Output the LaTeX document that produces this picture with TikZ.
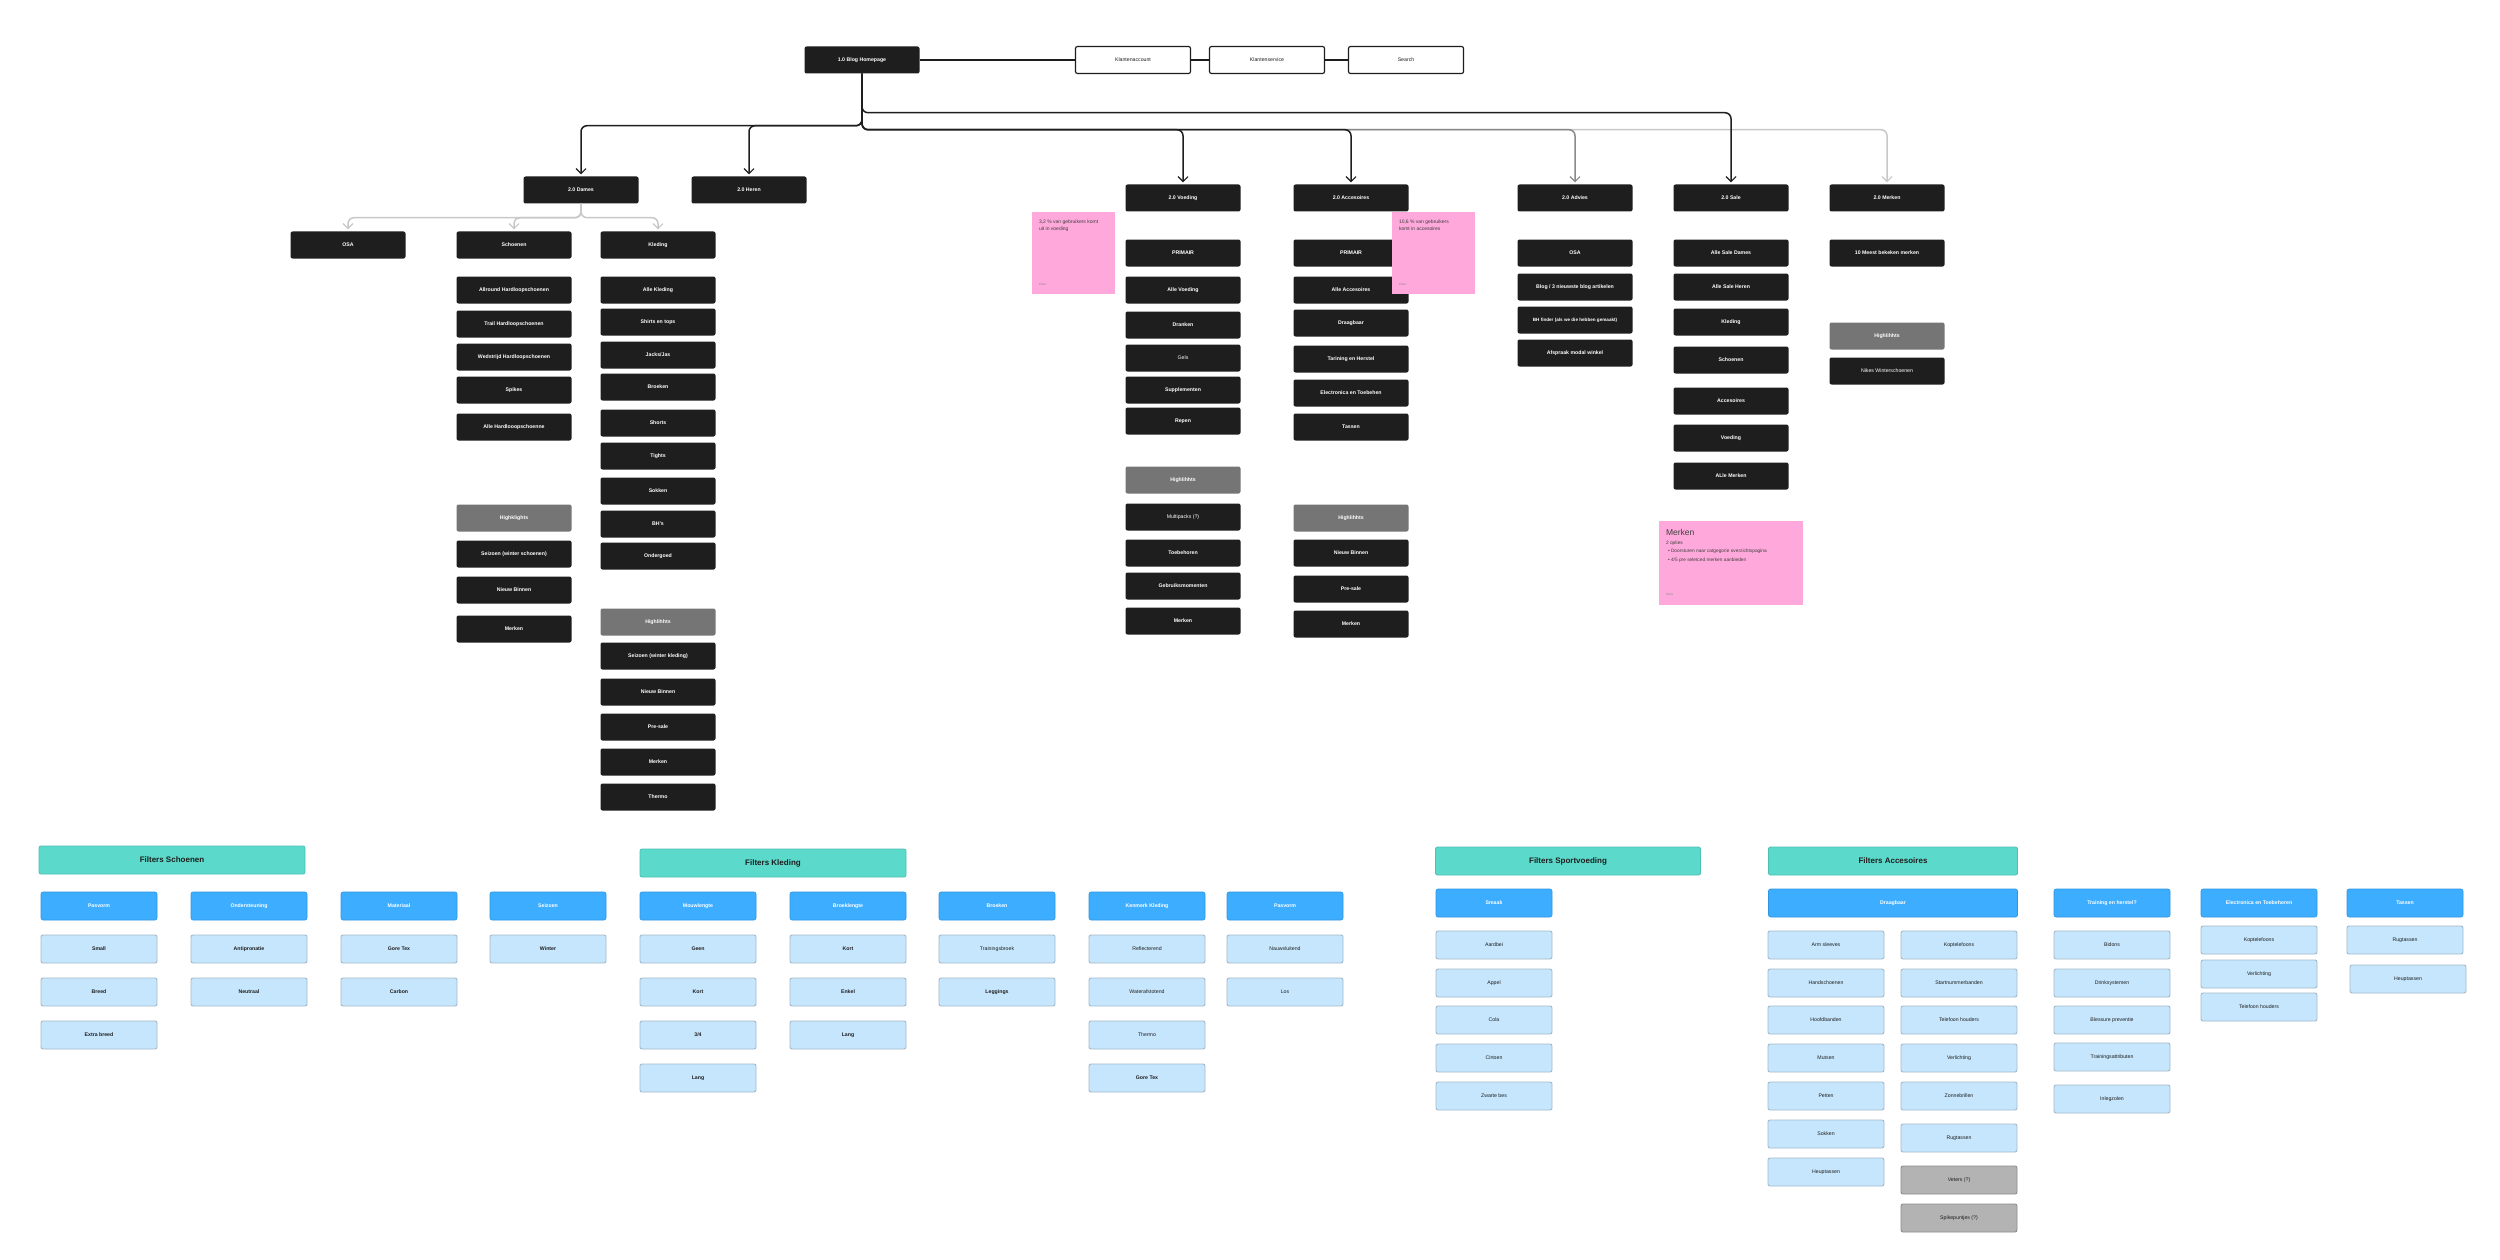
\documentclass[tikz,border=0pt]{standalone}
\usepackage{fontspec}
\setmainfont{Liberation Sans}
\usetikzlibrary{arrows.meta}
\definecolor{boxblack}{HTML}{1E1E1E}
\definecolor{hlgray}{HTML}{757575}
\definecolor{pinknote}{HTML}{FFA8DB}
\definecolor{tealc}{HTML}{5BD9CB}
\definecolor{tealb}{HTML}{4CC0B4}
\definecolor{blueh}{HTML}{3DADFF}
\definecolor{blueb}{HTML}{2E95E0}
\definecolor{lblue}{HTML}{C6E6FD}
\definecolor{lblueb}{HTML}{A3B9C9}
\definecolor{fgray}{HTML}{B3B3B3}
\definecolor{fgrayb}{HTML}{8C8C8C}
\definecolor{linegray}{HTML}{8A8A8A}
\definecolor{lightline}{HTML}{C8C8C8}
\tikzset{
 base/.style={rectangle, rounded corners=2pt, minimum width=115pt, minimum height=27pt, inner sep=1pt, align=center, font=\fontsize{5.2}{6.2}\selectfont\bfseries},
 blk/.style={base, fill=boxblack, text=white},
 blkn/.style={blk, font=\fontsize{5.2}{6.2}\selectfont},
 hl/.style={base, fill=hlgray, text=white},
 wht/.style={base, fill=white, draw=boxblack, line width=1.2pt, text=boxblack, font=\fontsize{5.2}{6.2}\selectfont},
 teal/.style={base, fill=tealc, draw=tealb, line width=0.8pt, text=boxblack, minimum height=28pt, font=\fontsize{8}{9}\selectfont\bfseries},
 fhead/.style={base, fill=blueh, draw=blueb, line width=0.6pt, text=white, minimum width=116pt, minimum height=28pt},
 fitem/.style={base, fill=lblue, draw=lblueb, line width=0.9pt, text=boxblack, minimum width=116pt, minimum height=28pt},
 fitemn/.style={fitem, font=\fontsize{5.2}{6.2}\selectfont},
 fgry/.style={fitemn, fill=fgray, draw=fgrayb},
 note/.style={rectangle, fill=pinknote, minimum width=83pt, minimum height=82pt, inner sep=0},
 notetext/.style={anchor=north west, inner sep=0, align=left, text=boxblack!85, font=\fontsize{5}{7}\selectfont},
 noteauthor/.style={anchor=south west, inner sep=0, text=boxblack!50, font=\fontsize{3}{3.5}\selectfont},
 conn/.style={draw=boxblack, line width=1.5pt, rounded corners=6pt, shorten >=2pt, -{Straight Barb[length=5pt,width=10pt,line width=1.1pt]}},
 connlt/.style={conn, draw=lightline},
 conngr/.style={conn, draw=linegray},
 plainline/.style={draw=boxblack, line width=1.8pt},
}
\begin{document}
\begin{tikzpicture}[x=1pt,y=-1pt]
\useasboundingbox[fill=white] (0,0) rectangle (2500,1260);

% ---------- top row
\node[blk] (home) at (862,60) {1.0 Blog Homepage};
\node[wht] (kacc) at (1133,60) {Klantenaccount};
\node[wht] (kserv) at (1267,60) {Klantenservice};
\node[wht] (search) at (1406,60) {Search};
\draw[plainline] (home) -- (kacc);
\draw[plainline] (kacc) -- (kserv);
\draw[plainline] (kserv) -- (search);

% ---------- level 2
\node[blk] (dames) at (581,190) {2.0 Dames};
\node[blk] (heren) at (749,190) {2.0 Heren};
\node[blk] (voed) at (1183,198) {2.0 Voeding};
\node[blk] (acc) at (1351,198) {2.0 Accesoires};
\node[blk] (adv) at (1575,198) {2.0 Advies};
\node[blk] (sale) at (1731,198) {2.0 Sale};
\node[blk] (merk) at (1887,198) {2.0 Merken};

\draw[connlt] (home.south) -- ++(0,56) -| (merk.north);
\draw[conngr] (home.south) -- ++(0,56) -| (adv.north);
\draw[conn] (home.south) -- ++(0,56) -| (acc.north);
\draw[conn] (home.south) -- ++(0,56) -| (voed.north);
\draw[conn] (home.south) -- ++(0,39) -| (sale.north);
\draw[conn] (home.south) -- ++(0,52) -| (heren.north);
\draw[conn] (home.south) -- ++(0,52) -| (dames.north);

% ---------- level 3 under Dames
\node[blk] (osa) at (348,245) {OSA};
\node[blk] (schoen) at (514,245) {Schoenen};
\node[blk] (kled) at (658,245) {Kleding};
\draw[connlt] (dames.south) -- ++(0,14) -| (osa.north);
\draw[connlt] (dames.south) -- ++(0,14) -| (schoen.north);
\draw[connlt] (dames.south) -- ++(0,14) -| (kled.north);

% Schoenen column
\node[blk] (s1) at (514,290) {Allround Hardloopschoenen};
\node[blk] (s2) at (514,324) {Trail Hardloopschoenen};
\node[blk] (s3) at (514,357) {Wedstrijd Hardloopschoenen};
\node[blk] (s4) at (514,390) {Spikes};
\node[blk] (s5) at (514,427) {Alle Hardlooopschoenne};
\node[hl]  (sh) at (514,518) {Highklights};
\node[blk] (s6) at (514,554) {Seizoen (winter schoenen)};
\node[blk] (s7) at (514,590) {Nieuw Binnen};
\node[blk] (s8) at (514,629) {Merken};

% Kleding column
\node[blk] (k1) at (658,290) {Alle Kleding};
\node[blk] (k2) at (658,322) {Shirts en tops};
\node[blk] (k3) at (658,355) {Jacks/Jas};
\node[blk] (k4) at (658,387) {Broeken};
\node[blk] (k5) at (658,423) {Shorts};
\node[blk] (k6) at (658,456) {Tights};
\node[blk] (k7) at (658,491) {Sokken};
\node[blk] (k8) at (658,524) {BH's};
\node[blk] (k9) at (658,556) {Ondergoed};
\node[hl]  (kh) at (658,622) {Highlihhts};
\node[blk] (k10) at (658,656) {Seizoen (winter kleding)};
\node[blk] (k11) at (658,692) {Nieuw Binnen};
\node[blk] (k12) at (658,727) {Pre-sale};
\node[blk] (k13) at (658,762) {Merken};
\node[blk] (k14) at (658,797) {Thermo};

% Voeding column
\node[blk]  (v1) at (1183,253) {PRIMAIR};
\node[blk]  (v2) at (1183,290) {Alle Voeding};
\node[blk]  (v3) at (1183,325) {Dranken};
\node[blkn] (v4) at (1183,358) {Gels};
\node[blk]  (v5) at (1183,390) {Supplementen};
\node[blk]  (v6) at (1183,421) {Repen};
\node[hl]   (vh) at (1183,480) {Highlihhts};
\node[blkn] (v7) at (1183,517) {Multipacks (?)};
\node[blk]  (v8) at (1183,553) {Toebehoren};
\node[blk]  (v9) at (1183,586) {Gebruiksmomenten};
\node[blk]  (v10) at (1183,621) {Merken};

% Accesoires column
\node[blk] (a1) at (1351,253) {PRIMAIR};
\node[blk] (a2) at (1351,290) {Alle Accesoires};
\node[blk] (a3) at (1351,323) {Draagbaar};
\node[blk] (a4) at (1351,359) {Tarining en Herstel};
\node[blk] (a5) at (1351,393) {Electronica en Toebehen};
\node[blk] (a6) at (1351,427) {Tassen};
\node[hl]  (ah) at (1351,518) {Highlihhts};
\node[blk] (a7) at (1351,553) {Nieuw Binnen};
\node[blk] (a8) at (1351,589) {Pre-sale};
\node[blk] (a9) at (1351,624) {Merken};

% notes
\node[note] (n1) at (1073.5,253) {};
\node[notetext] (n1t) at ([xshift=7pt,yshift=-8pt]n1.north west) {3,2 \% van gebruikers komt\\uit in voeding};
\node[noteauthor] (n1a) at ([xshift=7pt,yshift=8pt]n1.south west) {Elske};
\node[note] (n2) at (1433.5,253) {};
\node[notetext] (n2t) at ([xshift=7pt,yshift=-8pt]n2.north west) {10,6 \% van gebruikers\\komt in accesoires};
\node[noteauthor] (n2a) at ([xshift=7pt,yshift=8pt]n2.south west) {Elske};

% Advies column
\node[blk] (d1) at (1575,253) {OSA};
\node[blk] (d2) at (1575,287) {Blog / 3 nieuwste blog artikelen};
\node[blk, font=\fontsize{4.6}{5.5}\selectfont\bfseries] (d3) at (1575,320) {BH finder (als we die hebben gemaakt)};
\node[blk] (d4) at (1575,353) {Afspraak modal winkel};

% Sale column
\node[blk] (e1) at (1731,253) {Alle Sale Dames};
\node[blk] (e2) at (1731,287) {Alle Sale Heren};
\node[blk] (e3) at (1731,322) {Kleding};
\node[blk] (e4) at (1731,360) {Schoenen};
\node[blk] (e5) at (1731,401) {Accesoires};
\node[blk] (e6) at (1731,438) {Voeding};
\node[blk] (e7) at (1731,476) {ALle Merken};

\node[note, minimum width=144pt, minimum height=84pt] (n3) at (1731,563) {};
\node[notetext, font=\fontsize{8.5}{9}\selectfont] (n3t) at ([xshift=7pt,yshift=-8pt]n3.north west) {Merken};
\node[notetext, font=\fontsize{4.8}{8.6}\selectfont] (n3b) at ([xshift=7pt,yshift=-20pt]n3.north west) {2 opties\\[-0.6pt]
\hspace*{2pt}\textbullet\ Doorsturen naar catgegorie overzichtspagina\\
\hspace*{2pt}\textbullet\ 4/5 pre seletced merken aanbieden};
\node[noteauthor] (n3a) at ([xshift=7pt,yshift=9pt]n3.south west) {Elske};

% Merken column
\node[blk]  (m1) at (1887,253) {10 Meest bekeken merken};
\node[hl]   (mh) at (1887,336) {Highlihhts};
\node[blkn] (m2) at (1887,371) {Nikes Winterschoenen};

% ---------- Filters Schoenen
\node[teal, minimum width=266pt] (fs) at (172,860) {Filters Schoenen};
\node[fhead] (fs1) at (99,906) {Pasvorm};
\node[fhead] (fs2) at (249,906) {Ondersteuning};
\node[fhead] (fs3) at (399,906) {Materiaal};
\node[fhead] (fs4) at (548,906) {Seizoen};
\node[fitem] (fs11) at (99,949) {Small};
\node[fitem] (fs12) at (99,992) {Breed};
\node[fitem] (fs13) at (99,1035) {Extra breed};
\node[fitem] (fs21) at (249,949) {Antipronatie};
\node[fitem] (fs22) at (249,992) {Neutraal};
\node[fitem] (fs31) at (399,949) {Gore Tex};
\node[fitem] (fs32) at (399,992) {Carbon};
\node[fitem] (fs41) at (548,949) {Winter};

% ---------- Filters Kleding
\node[teal, minimum width=266pt] (fk) at (773,863) {Filters Kleding};
\node[fhead] (fk1) at (698,906) {Mouwlengte};
\node[fhead] (fk2) at (848,906) {Broeklengte};
\node[fhead] (fk3) at (997,906) {Broeken};
\node[fhead] (fk4) at (1147,906) {Kenmerk Kleding};
\node[fhead] (fk5) at (1285,906) {Pasvorm};
\node[fitem] (fk11) at (698,949) {Geen};
\node[fitem] (fk12) at (698,992) {Kort};
\node[fitem] (fk13) at (698,1035) {3/4};
\node[fitem] (fk14) at (698,1078) {Lang};
\node[fitem] (fk21) at (848,949) {Kort};
\node[fitem] (fk22) at (848,992) {Enkel};
\node[fitem] (fk23) at (848,1035) {Lang};
\node[fitemn] (fk31) at (997,949) {Trainingsbroek};
\node[fitem] (fk32) at (997,992) {Leggings};
\node[fitemn] (fk41) at (1147,949) {Reflecterend};
\node[fitemn] (fk42) at (1147,992) {Waterafstotend};
\node[fitemn] (fk43) at (1147,1035) {Thermo};
\node[fitem] (fk44) at (1147,1078) {Gore Tex};
\node[fitemn] (fk51) at (1285,949) {Nauwsluitend};
\node[fitemn] (fk52) at (1285,992) {Los};

% ---------- Filters Sportvoeding
\node[teal, minimum width=265pt] (fv) at (1568,861) {Filters Sportvoeding};
\node[fhead] (fv1) at (1494,903) {Smaak};
\node[fitemn] (fv11) at (1494,945) {Aardbei};
\node[fitemn] (fv12) at (1494,983) {Appel};
\node[fitemn] (fv13) at (1494,1020) {Cola};
\node[fitemn] (fv14) at (1494,1058) {Cirtoen};
\node[fitemn] (fv15) at (1494,1096) {Zwarte bes};

% ---------- Filters Accesoires
\node[teal, minimum width=249pt] (fa) at (1893,861) {Filters Accesoires};
\node[fhead, minimum width=249pt] (fa1) at (1893,903) {Draagbaar};
\node[fitemn] (fa11) at (1826,945) {Arm sleeves};
\node[fitemn] (fa12) at (1826,983) {Handschoenen};
\node[fitemn] (fa13) at (1826,1020) {Hoofdbanden};
\node[fitemn] (fa14) at (1826,1058) {Mutsen};
\node[fitemn] (fa15) at (1826,1096) {Petten};
\node[fitemn] (fa16) at (1826,1134) {Sokken};
\node[fitemn] (fa17) at (1826,1172) {Heuptassen};
\node[fitemn] (fa21) at (1959,945) {Koptelefoons};
\node[fitemn] (fa22) at (1959,983) {Startnummerbanden};
\node[fitemn] (fa23) at (1959,1020) {Telefoon houders};
\node[fitemn] (fa24) at (1959,1058) {Verlichting};
\node[fitemn] (fa25) at (1959,1096) {Zonnebrillen};
\node[fitemn] (fa26) at (1959,1138) {Rugtassen};
\node[fgry] (fa27) at (1959,1180) {Veters (?)};
\node[fgry] (fa28) at (1959,1218) {Spikepuntjes (?)};

\node[fhead] (ft) at (2112,903) {Training en herstel?};
\node[fitemn] (ft1) at (2112,945) {Bidons};
\node[fitemn] (ft2) at (2112,983) {Drinksystemen};
\node[fitemn] (ft3) at (2112,1020) {Blessure preventie};
\node[fitemn] (ft4) at (2112,1057) {Trainingsattributen};
\node[fitemn] (ft5) at (2112,1099) {Inlegzolen};

\node[fhead] (fe) at (2259,903) {Electronica en Toebehoren};
\node[fitemn] (fe1) at (2259,940) {Koptelefoons};
\node[fitemn] (fe2) at (2259,974) {Verlichting};
\node[fitemn] (fe3) at (2259,1007) {Telefoon houders};

\node[fhead] (fta) at (2405,903) {Tassen};
\node[fitemn] (fta1) at (2405,940) {Rugtassen};
\node[fitemn] (fta2) at (2408,979) {Heuptassen};
\end{tikzpicture}
\end{document}
